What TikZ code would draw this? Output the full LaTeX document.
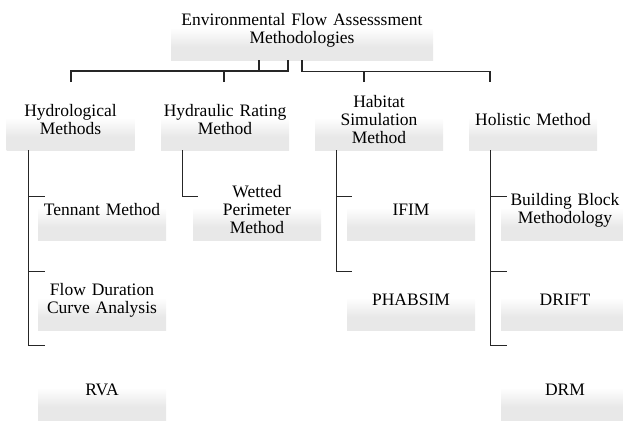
\documentclass[tikz,border=0pt]{standalone}
\usepackage{fontspec}
\setmainfont{Liberation Serif}
\usetikzlibrary{calc}
\definecolor{boxgrey}{RGB}{232,232,232}
\pgfdeclareverticalshading{boxfade}{100bp}{color(0bp)=(boxgrey); color(25bp)=(boxgrey); color(36bp)=(boxgrey); color(52bp)=(white); color(75bp)=(white); color(100bp)=(white)}
\tikzset{
  method/.style={shade, shading=boxfade, align=center, text width=124pt, inner xsep=2pt, inner ysep=0pt, minimum height=60pt, font=\fontsize{17.5}{18}\selectfont},
  link/.style={draw=black!85, line width=1.2pt}
}
\begin{document}
\begin{tikzpicture}[x=1pt,y=-1pt]
	\useasboundingbox (0,0) rectangle (623,421);
	
	% top of the tree
	\node[method, text width=258pt] (root) at (302,30) {Environmental Flow Assesssment\\Methodologies};
	
	% the four families
	\node[method] (hyd) at (70.5,120) {Hydrological\\Methods};
	\node[method] (hyr) at (225,120) {Hydraulic Rating\\Method};
	\node[method] (hab) at (379,120) {Habitat\\Simulation\\Method};
	\node[method] (hol) at (533,120) {Holistic Method};
	
	% the methods in each family
	\node[method] (ten) at (102,210) {Tennant Method};
	\node[method] (fdc) at (102,300) {Flow Duration\\Curve Analysis};
	\node[method] (rva) at (102,390) {RVA};
	\node[method] (wet) at (257,210) {Wetted\\Perimeter\\Method};
	\node[method] (ifim) at (411,210) {IFIM};
	\node[method] (phab) at (411,300) {PHABSIM};
	\node[method] (bbm) at (565,210) {Building Block\\Methodology};
	\node[method] (drift) at (565,300) {DRIFT};
	\node[method] (drm) at (565,390) {DRM};
	
	% bus under the root
	\coordinate (hydtop) at (71,82);
	\coordinate (hyrtop) at (224,82);
	\coordinate (habtop) at (364,82);
	\coordinate (holtop) at (490,82);
	\draw[link] (hydtop) -- ++(0,-11) -| ($(root.south)+(-14,0)$);
	\draw[link] ($(root.south)+(-43,0)$) -- ++(0,11);
	\draw[link] (hyrtop) -- ++(0,-11);
	\draw[link] (root.south) -- ++(0,11) -| (holtop);
	\draw[link] (habtop) -- ++(0,-11);
	
	% branches
	\draw[link] ($(hyd.south west)+(22,0)$) |- ($(ten.north west)+(7,17)$);
	\draw[link] ($(hyd.south west)+(22,0)$) |- ($(fdc.north west)+(7,2)$);
	\draw[link] ($(hyd.south west)+(22,0)$) |- ($(rva.north west)+(7,-14)$);
	\draw[link] ($(hyr.south west)+(22,0)$) |- ($(wet.north west)+(5,17)$);
	\draw[link] ($(hab.south west)+(22,0)$) |- ($(ifim.north west)+(5,17)$);
	\draw[link] ($(hab.south west)+(22,0)$) |- ($(phab.north west)+(5,2)$);
	\draw[link] ($(hol.south west)+(22,0)$) |- ($(bbm.north west)+(6,17)$);
	\draw[link] ($(hol.south west)+(22,0)$) |- ($(drift.north west)+(6,2)$);
	\draw[link] ($(hol.south west)+(22,0)$) |- ($(drm.north west)+(6,-14)$);
	
\end{tikzpicture}
\end{document}
